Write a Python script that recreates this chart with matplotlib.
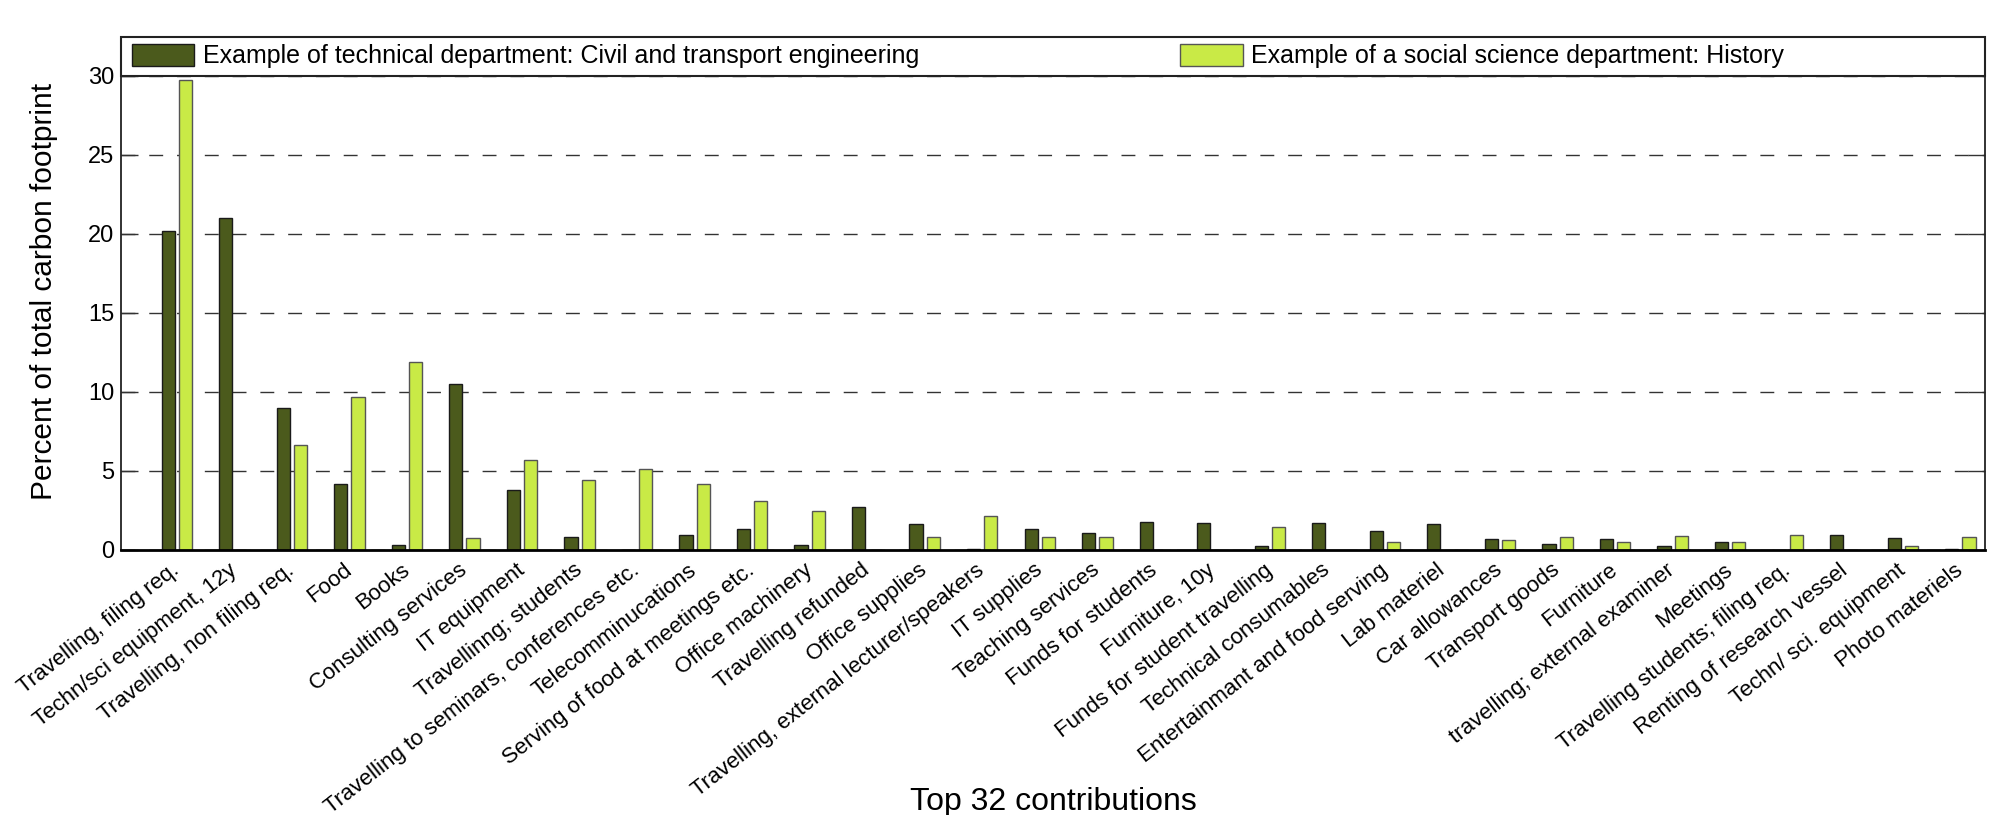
import matplotlib
matplotlib.use("Agg")
import matplotlib.pyplot as plt
from matplotlib.patches import Rectangle, Patch
import numpy as np

plt.rcParams['font.family'] = ['Liberation Sans', 'DejaVu Sans']

# categories (top 32 contributions)
categories = [
    "Travelling, filing req.", "Techn/sci equipment, 12y", "Travelling, non filing req.",
    "Food", "Books", "Consulting services", "IT equipment", "Travellinng; students",
    "Travelling to seminars, conferences etc.", "Telecomminucations",
    "Serving of food at meetings etc.", "Office machinery", "Travelling refunded",
    "Office supplies", "Travelling, external lecturer/speakers", "IT supplies",
    "Teaching services", "Funds for students", "Furniture, 10y",
    "Funds for student travelling", "Technical consumables",
    "Entertainmant and food serving", "Lab materiel", "Car allowances",
    "Transport goods", "Furniture", "travelling; external examiner", "Meetings",
    "Travelling students; filing req.", "Renting of research vessel",
    "Techn/ sci. equipment", "Photo materiels",
]

# percent of total carbon footprint
civil = [20.2, 21.0, 9.0, 4.2, 0.3, 10.5, 3.8, 0.8, 0.0, 0.95,
         1.3, 0.3, 2.7, 1.65, 0.05, 1.3, 1.05, 1.75, 1.7, 0.25,
         1.7, 1.18, 1.65, 0.68, 0.38, 0.68, 0.23, 0.5, 0.0, 0.97,
         0.74, 0.08]
history = [29.7, 0.0, 6.65, 9.7, 11.9, 0.75, 5.7, 4.4, 5.1, 4.2,
           3.1, 2.45, 0.0, 0.8, 2.15, 0.8, 0.8, 0.0, 0.0, 1.48,
           0.0, 0.53, 0.0, 0.65, 0.8, 0.5, 0.89, 0.5, 0.97, 0.0,
           0.23, 0.8]

labels = ["Example of technical department: Civil and transport engineering",
          "Example of a social science department: History"]

c_dark = "#4b5a1c"
c_light = "#c9ea46"

fig = plt.figure(figsize=(19.9, 8.15), dpi=100)
ax = fig.add_axes([0.0608, 0.3252, 0.9367, 0.5819])

x = np.arange(1, len(categories) + 1)
w = 0.23
ax.bar(x - 0.15, civil, w, color=c_dark, edgecolor="#1a1a1a", linewidth=1.0, zorder=2)
ax.bar(x + 0.15, history, w, color=c_light, edgecolor="#555555", linewidth=1.0, zorder=2)

ax.set_xlim(0.03, 32.43)
ax.set_ylim(0, 30)

# y axis
ax.set_yticks(range(0, 31, 5))
ax.tick_params(axis='y', direction='in', length=12, width=1, labelsize=17, pad=5,
               left=True, right=True, color='#333333')
ax.yaxis.grid(True, linestyle=(0, (10, 10)), color='#333333', linewidth=1)
ax.set_axisbelow(True)

# x axis: category labels as major, ticks every 5 as minor
ax.set_xticks(x)
ax.set_xticklabels(categories, rotation=38, ha='right', va='center',
                   rotation_mode='anchor', fontsize=16)
ax.tick_params(axis='x', which='major', length=0, pad=13)
ax.set_xticks([5, 10, 15, 20, 25, 30], minor=True)
ax.tick_params(axis='x', which='minor', direction='in', length=12, width=1,
               top=True, bottom=True, color='#444444')

for s in ['left', 'right', 'top']:
    ax.spines[s].set_linewidth(1.3)
    ax.spines[s].set_color('#222222')
ax.spines['bottom'].set_linewidth(2)
ax.spines['bottom'].set_color('black')

ax.set_ylabel("Percent of total carbon footprint", fontsize=21.5)
ax.yaxis.set_label_coords(-0.034, 0.546)
ax.set_xlabel("Top 32 contributions", fontsize=23)
ax.xaxis.set_label_coords(0.5, -0.548)
ax.xaxis.label.set_va('baseline')

# legend box sitting on top of the axes
box_h = 39 / 474.3
ax.add_patch(Rectangle((0, 1), 1, box_h, transform=ax.transAxes, fill=False,
                       edgecolor='#222222', linewidth=1.5, clip_on=False))

h1 = Patch(facecolor=c_dark, edgecolor='#1a1a1a', linewidth=1)
h2 = Patch(facecolor=c_light, edgecolor='#555555', linewidth=1)
yc = 1 + box_h / 2
leg1 = ax.legend([h1], [labels[0]], loc='center left', bbox_to_anchor=(0.0059, yc),
                 frameon=False, fontsize=18, borderpad=0, borderaxespad=0,
                 handlelength=2.5, handleheight=0.95, handletextpad=0.35)
ax.add_artist(leg1)
ax.legend([h2], [labels[1]], loc='center left', bbox_to_anchor=((1180 - 121) / 1864, yc),
          frameon=False, fontsize=18, borderpad=0, borderaxespad=0,
          handlelength=2.5, handleheight=0.95, handletextpad=0.35)

plt.savefig("out.png", dpi=100)
